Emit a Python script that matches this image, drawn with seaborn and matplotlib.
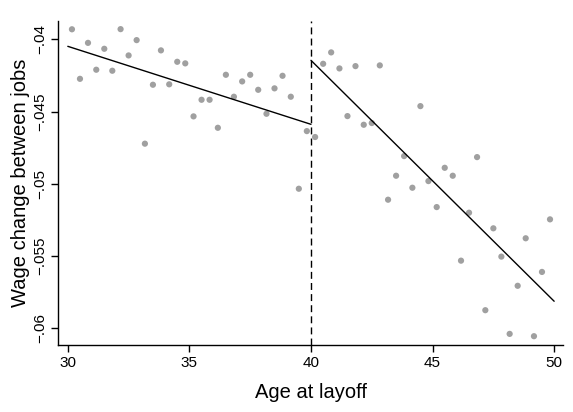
import numpy as np
import pandas as pd
import seaborn as sns
import matplotlib
matplotlib.use("Agg")
import matplotlib.pyplot as plt

# ---- data ----
age_left = [30.17, 30.5, 30.83, 31.17, 31.5, 31.83, 32.17, 32.5, 32.83, 33.17,
            33.5, 33.83, 34.17, 34.5, 34.83, 35.17, 35.5, 35.83, 36.17, 36.5,
            36.83, 37.17, 37.5, 37.83, 38.17, 38.5, 38.83, 39.17, 39.5, 39.83]
wage_left = [-0.0393, -0.04273, -0.04024, -0.0421, -0.04065, -0.04217, -0.03929, -0.04111, -0.04005, -0.04722,
             -0.04314, -0.04076, -0.04311, -0.04155, -0.04166, -0.04533, -0.04418, -0.04418, -0.04612, -0.04245,
             -0.04397, -0.04291, -0.04245, -0.04349, -0.04515, -0.04339, -0.04252, -0.04397, -0.05034, -0.04635]
age_right = [40.17, 40.5, 40.83, 41.17, 41.5, 41.83, 42.17, 42.5, 42.83, 43.17,
             43.5, 43.83, 44.17, 44.5, 44.83, 45.17, 45.5, 45.83, 46.17, 46.5,
             46.83, 47.17, 47.5, 47.83, 48.17, 48.5, 48.83, 49.17, 49.5, 49.83]
wage_right = [-0.04676, -0.04169, -0.0409, -0.04201, -0.04531, -0.04185, -0.04591, -0.04579, -0.0418, -0.0511,
              -0.04944, -0.04808, -0.05027, -0.04462, -0.04981, -0.05161, -0.04889, -0.04944, -0.05532, -0.0520,
              -0.04815, -0.05875, -0.05308, -0.05504, -0.06039, -0.05706, -0.05377, -0.06055, -0.0561, -0.05246]

fit_left_x = [30, 40]
fit_left_y = [-0.04048, -0.04588]
fit_right_x = [40, 50]
fit_right_y = [-0.04145, -0.05813]

cutoff = 40
x_ticks = [30, 35, 40, 45, 50]
y_ticks = [-0.06, -0.055, -0.05, -0.045, -0.04]
y_tick_labels = ["\u2212.06", "\u2212.055", "\u2212.05", "\u2212.045", "\u2212.04"]

sns.set_theme(style="ticks")
plt.rcParams["font.family"] = ["Liberation Sans", "DejaVu Sans"]

df = pd.DataFrame({"age": age_left + age_right, "wage": wage_left + wage_right})
fl = pd.DataFrame({"age": fit_left_x, "wage": fit_left_y})
fr = pd.DataFrame({"age": fit_right_x, "wage": fit_right_y})

fig = plt.figure(figsize=(5.73, 4.12), dpi=100)
ax = fig.add_axes([0.1018, 0.1626, 0.881, 0.787])

sns.scatterplot(data=df, x="age", y="wage", ax=ax, color="#a0a0a0", s=20,
                edgecolor="none", zorder=2)
sns.lineplot(data=fl, x="age", y="wage", ax=ax, color="black", lw=1.0, zorder=3)
sns.lineplot(data=fr, x="age", y="wage", ax=ax, color="black", lw=1.0, zorder=3)
ax.axvline(cutoff, color="black", lw=1.0, ls=(0, (5, 3)), zorder=1)

ax.set_xlim(29.61, 50.37)
ax.set_ylim(-0.06116, -0.03871)
ax.set_xticks(x_ticks)
ax.set_xticklabels([str(t) for t in x_ticks], fontsize=11)
ax.set_yticks(y_ticks)
ax.set_yticklabels(y_tick_labels, rotation=90, va="center", fontsize=11)
ax.tick_params(axis="both", direction="out", length=5, width=1, color="black",
               labelcolor="black", pad=3)

ax.set_xlabel("Age at layoff", fontsize=14.5, labelpad=9, color="black")
ax.set_ylabel("Wage change between jobs", fontsize=14.5, labelpad=2, color="black")

for side in ["top", "right"]:
    ax.spines[side].set_visible(False)
for side in ["left", "bottom"]:
    ax.spines[side].set_color("black")
    ax.spines[side].set_linewidth(1.0)

fig.savefig("out.png", dpi=100)
